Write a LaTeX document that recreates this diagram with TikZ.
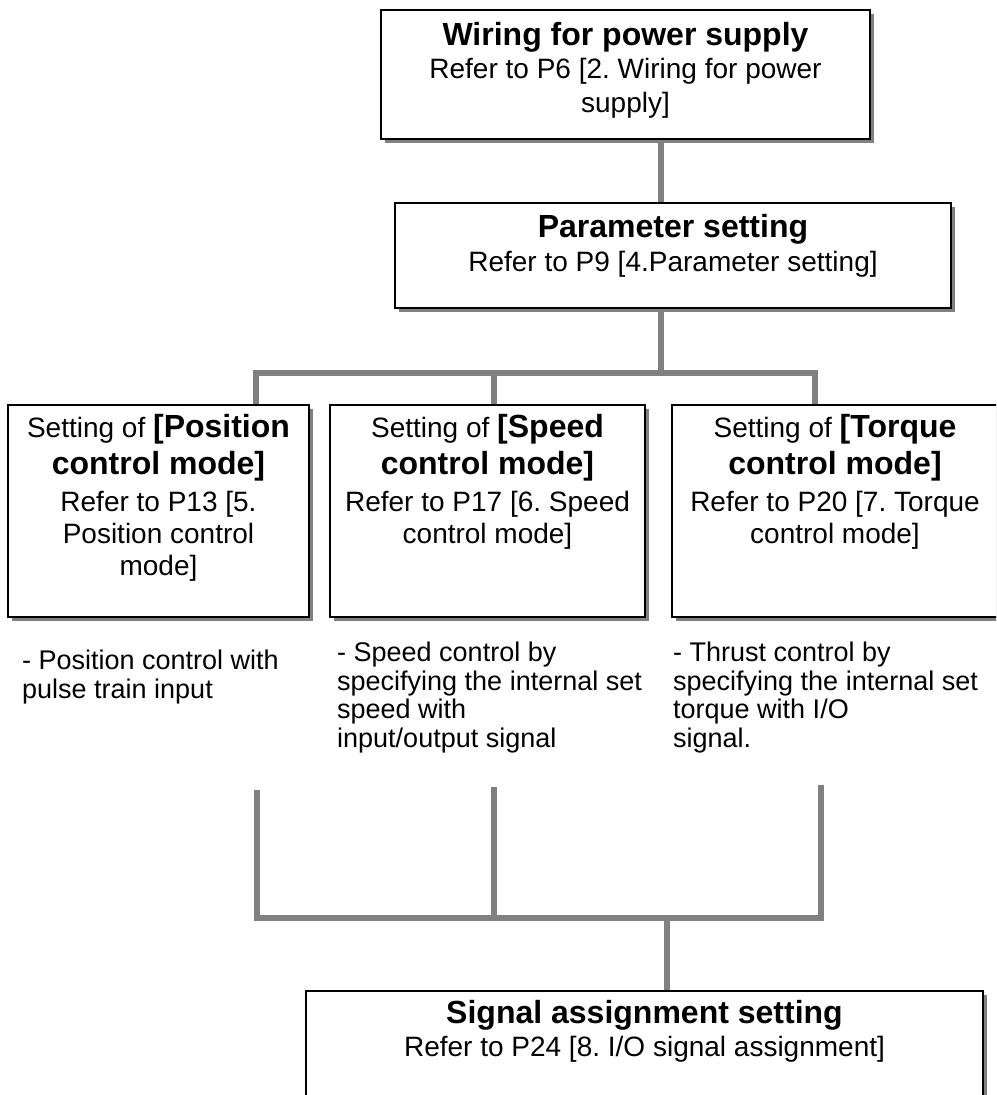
\documentclass[tikz,border=0pt]{standalone}
\usepackage{fontspec}
\setmainfont{Liberation Sans}
\usepackage{tikz}
\usetikzlibrary{positioning, shadows}
\frenchspacing

\definecolor{linkgray}{RGB}{128,128,128}
\definecolor{shadegray}{RGB}{128,128,128}

\tikzset{
  box/.style={draw, line width=2.5pt, fill=white, inner sep=0pt,
    drop shadow={shadow xshift=4pt, shadow yshift=-4pt, fill=shadegray, opacity=1}},
  boxtext/.style={align=center, inner sep=0pt, font=\fontsize{28}{32}\selectfont},
  note/.style={anchor=north west, align=left, inner sep=0pt, font=\fontsize{27}{28.5}\selectfont},
  link/.style={draw=linkgray, line width=6pt},
}
\newcommand{\btitle}[1]{{\fontsize{32}{32}\selectfont\bfseries #1}}

\begin{document}
\begin{tikzpicture}[x=1pt, y=-1pt]
  \useasboundingbox (0,0) rectangle (996,1095);
  \clip (0,0) rectangle (996,1095);

  \node[box, minimum width=489pt, minimum height=129pt] (wire) at (625.5,74.5) {};
  \node[box, minimum width=556pt, minimum height=105pt] (param) at (673,255.5) {};
  \node[box, minimum width=301pt, minimum height=212pt] (pos) at (158.5,511) {};
  \node[box, minimum width=315pt, minimum height=212pt] (spd) at (487.5,511) {};
  \node[box, minimum width=326pt, minimum height=212pt] (trq) at (835,511) {};
  \node[box, minimum width=677pt, minimum height=139pt] (sig) at (644.5,1060.5) {};

  \node[boxtext, below=13pt of wire.north] (wire-t)
    {\btitle{Wiring for power supply}\\[1pt] Refer to P6 [2. Wiring for power\\[2pt] supply]};
  \node[boxtext, below=12pt of param.north] (param-t)
    {\btitle{Parameter setting}\\[2pt] Refer to P9 [4.Parameter setting]};
  \node[boxtext, below=10pt of pos.north] (pos-t)
    {Setting of \btitle{[Position}\\[5pt] \btitle{control mode]}\\[5pt] Refer to P13 [5.\\ Position control\\ mode]};
  \node[boxtext, below=10pt of spd.north] (spd-t)
    {Setting of \btitle{[Speed}\\[5pt] \btitle{control mode]}\\[5pt] Refer to P17 [6. Speed\\ control mode]};
  \node[boxtext, below=10pt of trq.north] (trq-t)
    {Setting of \btitle{[Torque}\\[5pt] \btitle{control mode]}\\[5pt] Refer to P20 [7. Torque\\ control mode]};
  \node[boxtext, below=10pt of sig.north] (sig-t)
    {\btitle{Signal assignment setting}\\[1pt] Refer to P24 [8. I/O signal assignment]};

  \node[note] (pos-n) at (22,650) {- Position control with\\ pulse train input};
  \node[note] (spd-n) at (337,642) {- Speed control by\\ specifying the internal set\\ speed with\\ input/output signal};
  \node[note] (trq-n) at (673,642) {- Thrust control by\\ specifying the internal set\\ torque with I/O\\ signal.};

  % branch above the three modes
  \coordinate (fork) at (661,373);
  \coordinate (b1) at (256,373);
  \coordinate (b2) at (494,373);
  \coordinate (b3) at (815,373);
  \draw[link] (wire.south -| fork) -- (param.north -| fork);
  \draw[link] (param.south -| fork) -- (fork);
  \draw[link] (pos.north -| b1) -- (b1) -- (b3) -- (trq.north -| b3);
  \draw[link] (b2) -- (spd.north -| b2);

  % joining lines to the signal box
  \coordinate (d1) at (257,790);
  \coordinate (d2) at (494,787);
  \coordinate (d3) at (821,785);
  \coordinate (join) at (667,918);
  \draw[link] (d1) -- (d1 |- join) -- (d3 |- join) -- (d3);
  \draw[link] (d2) -- (d2 |- join);
  \draw[link] (join) -- (sig.north -| join);
\end{tikzpicture}
\end{document}
